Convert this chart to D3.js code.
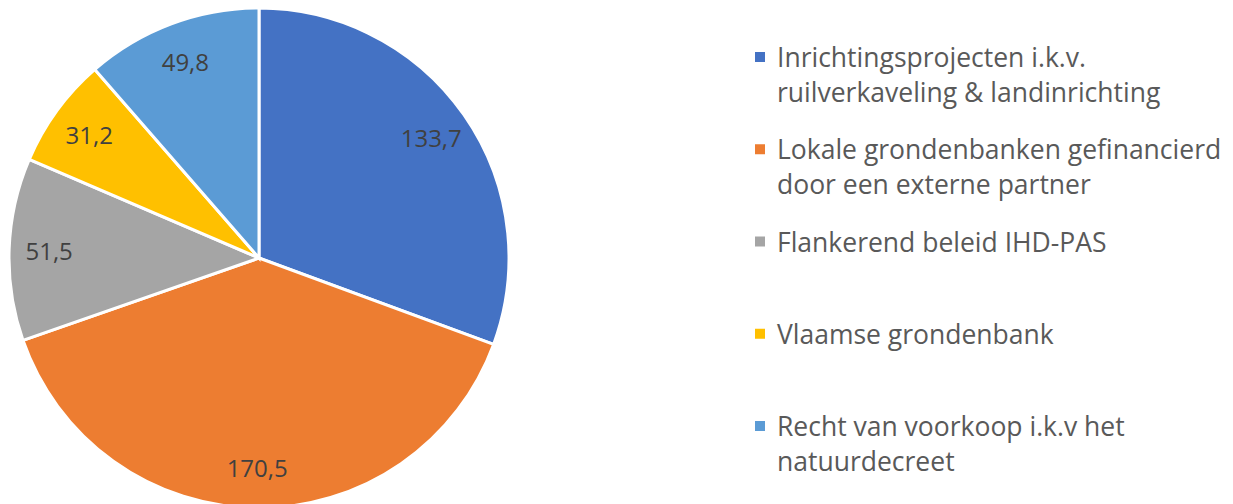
<!DOCTYPE html>
<html>
<head>
<meta charset="utf-8">
<script src="https://cdn.jsdelivr.net/npm/d3@7"></script>
<style>
  body { margin: 0; background: #fff; }
  svg { display: block; }
  text { font-family: "Open Sans", sans-serif; }
</style>
</head>
<body>
<figure id="pie" style="margin:0"></figure>
<script>
// data
const categories = [
  ["Inrichtingsprojecten i.k.v.", "ruilverkaveling & landinrichting"],
  ["Lokale grondenbanken gefinancierd", "door een externe partner"],
  ["Flankerend beleid IHD-PAS"],
  ["Vlaamse grondenbank"],
  ["Recht van voorkoop i.k.v het", "natuurdecreet"]
];
const values = [133.7, 170.5, 51.5, 31.2, 49.8];
const valueLabels = ["133,7", "170,5", "51,5", "31,2", "49,8"];
const colors = ["#4472C4", "#ED7D31", "#A5A5A5", "#FFC000", "#5B9BD5"];

const width = 1233, height = 504;
const radius = 250;
const cx = 259, cy = 258;

const svg = d3.select("figure#pie")
  .append("svg")
  .attr("width", width)
  .attr("height", height);

const rows = values.map((v, i) => ({ value: v, label: valueLabels[i], name: categories[i], color: colors[i] }));

const pie = d3.pie().sort(null).value(d => d.value);
const arc = d3.arc().innerRadius(0).outerRadius(radius);
const labelArc = d3.arc().innerRadius(radius * 0.84).outerRadius(radius * 0.84);

const g = svg.append("g").attr("transform", `translate(${cx},${cy})`);

g.selectAll("path.slice")
  .data(pie(rows))
  .join("path")
  .attr("class", "slice")
  .attr("d", arc)
  .attr("fill", d => d.data.color)
  .attr("stroke", "#fff")
  .attr("stroke-width", 3);

g.selectAll("text.value")
  .data(pie(rows))
  .join("text")
  .attr("class", "value")
  .attr("transform", d => `translate(${labelArc.centroid(d)})`)
  .attr("text-anchor", "middle")
  .attr("dominant-baseline", "central")
  .attr("font-size", 24)
  .attr("fill", "#404040")
  .text(d => d.data.label);

// legend
const legendY = d3.scaleLinear().domain([0, rows.length - 1]).range([57, 426]);
const lineGap = 35;

const item = svg.append("g")
  .selectAll("g.item")
  .data(rows)
  .join("g")
  .attr("class", "item")
  .attr("transform", (d, i) => `translate(755,${legendY(i)})`);

item.append("rect")
  .attr("x", 0)
  .attr("y", -5)
  .attr("width", 10)
  .attr("height", 10)
  .attr("fill", d => d.color);

item.append("text")
  .attr("x", 22)
  .attr("fill", "#595959")
  .attr("font-size", 26.5)
  .selectAll("tspan")
  .data(d => d.name)
  .join("tspan")
  .attr("x", 22)
  .attr("y", (d, j) => j * lineGap)
  .attr("dominant-baseline", "central")
  .text(d => d);
</script>
</body>
</html>
